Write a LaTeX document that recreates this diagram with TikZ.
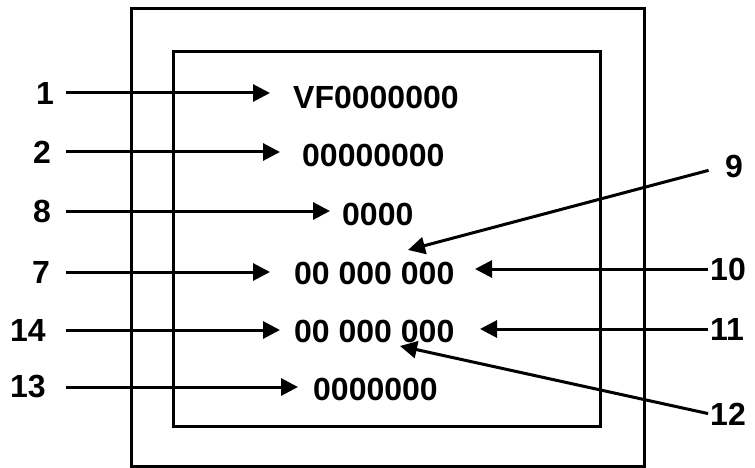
\documentclass[tikz,border=0pt]{standalone}
\usepackage{fontspec}
\setmainfont{Liberation Sans}
\usetikzlibrary{arrows.meta}
\begin{document}
\begin{tikzpicture}[x=1pt,y=-1pt,
  frame/.style={draw=black,line width=3pt},
  lab/.style={inner sep=0pt,font=\fontsize{32}{36}\selectfont\bfseries},
  code/.style={inner sep=0pt,anchor=west,font=\fontsize{32}{36}\selectfont\bfseries},
  arr/.style={draw=black,line width=3pt,-{Triangle[length=17pt,width=17pt]}}]
\useasboundingbox (0,0) rectangle (755,468);
% frames
\draw[frame] (131,9) rectangle (644,466);
\draw[frame] (173,52) rectangle (600,426);
% code texts
\node[code] (t1) at (293,97) {VF0000000};
\node[code] (t2) at (302,155) {00000000};
\node[code] (t8) at (342,214) {0000};
\node[code] (t7) at (294,273) {00 000 000};
\node[code] (t14) at (294,331) {00 000 000};
\node[code] (t13) at (313,389) {0000000};
% left labels
\node[lab,anchor=east] (l1) at (54,93) {1};
\node[lab,anchor=east] (l2) at (51,152) {2};
\node[lab,anchor=east] (l8) at (51,211) {8};
\node[lab,anchor=east] (l7) at (50,272) {7};
\node[lab,anchor=east] (l14) at (46,330) {14};
\node[lab,anchor=east] (l13) at (46,387) {13};
% right labels
\node[lab,anchor=west] (l9) at (725,166) {9};
\node[lab,anchor=west] (l10) at (710,269) {10};
\node[lab,anchor=west] (l11) at (710,329) {11};
\node[lab,anchor=west] (l12) at (710,414) {12};
% arrow tips
\coordinate (p1) at (270,93);
\coordinate (p2) at (280,152);
\coordinate (p8) at (330,211);
\coordinate (p7) at (270,272);
\coordinate (p14) at (280,330);
\coordinate (p13) at (298,387);
\coordinate (p9) at (408,250);
\coordinate (p10) at (475,269);
\coordinate (p11) at (480,329);
\coordinate (p12) at (400,346);
% arrows
\draw[arr,shorten <=12pt] (l1.east) -- (p1);
\draw[arr,shorten <=15pt] (l2.east) -- (p2);
\draw[arr,shorten <=15pt] (l8.east) -- (p8);
\draw[arr,shorten <=16pt] (l7.east) -- (p7);
\draw[arr,shorten <=20pt] (l14.east) -- (p14);
\draw[arr,shorten <=20pt] (l13.east) -- (p13);
\draw[arr,shorten <=17pt] (l9.west) -- (p9);
\draw[arr,shorten <=2pt] (l10.west) -- (p10);
\draw[arr,shorten <=2pt] (l11.west) -- (p11);
\draw[arr,shorten <=2pt] (l12.west) -- (p12);
\end{tikzpicture}
\end{document}
